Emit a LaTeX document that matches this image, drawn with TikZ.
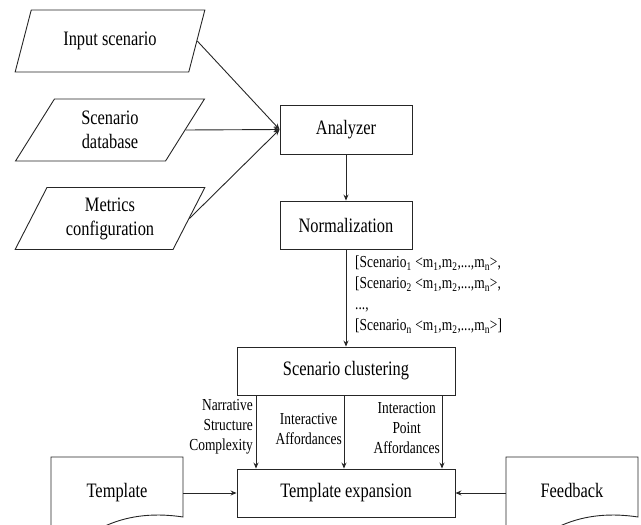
\documentclass[tikz,border=0pt]{standalone}
\usepackage{fontspec}
\setmainfont[FakeStretch=0.8]{Liberation Serif}
\usetikzlibrary{arrows.meta,shapes.geometric}
\newcommand{\sbs}[1]{\textsubscript{#1}}
\begin{document}
\begin{tikzpicture}[x=1pt,y=-1pt,
  ln/.style={draw=black!85, line width=0.9pt},
  tip/.style={ln, -{Stealth[length=6pt,width=5pt]}},
  bigtext/.style={font=\fontsize{20.5}{24}\selectfont, align=center},
  boxnode/.style={draw=black!85, line width=0.9pt, rectangle, inner sep=0pt, bigtext},
  para/.style={draw=black!85, line width=0.9pt, trapezium, trapezium left angle=62,
    trapezium right angle=118, trapezium stretches=true, minimum width=190pt,
    minimum height=62pt, inner sep=0pt, bigtext},
  docnode/.style={rectangle, draw=none, minimum width=132pt, minimum height=72pt,
    inner sep=0pt, bigtext},
  lbl/.style={font=\fontsize{16.8}{20}\selectfont, inner sep=0pt},
  lst/.style={font=\fontsize{16.8}{21}\selectfont, inner sep=0pt, align=left}]
\useasboundingbox (0,0) rectangle (641,525);
\clip (0,0) rectangle (641,525);

% inputs
\node[para] (in) at (110,41) {Input scenario};
\node[para] (db) at (110,130) {Scenario\\database};
\node[para] (mc) at (110,218.5) {Metrics\\configuration};

% process boxes
\node[boxnode, minimum width=132pt, minimum height=49pt] (an) at (346,129.5) {Analyzer};
\node[boxnode, minimum width=132pt, minimum height=48pt] (no) at (346,225) {Normalization};
\node[boxnode, minimum width=218pt, minimum height=48pt] (sc) at (346,371) {Scenario clustering};
\node[boxnode, minimum width=218pt, minimum height=48pt] (te) at (346,493) {Template expansion};

% documents
\node[docnode] (tp) at (117,493) {\raisebox{6pt}{Template}};
\node[docnode] (fb) at (572,493) {\raisebox{6pt}{Feedback}};
\draw[ln] (51,538) -- (51,457) -- (183,457) -- (183,517)
  .. controls (150,512) and (125,517) .. (105,526)
  .. controls (85,535) and (65,540) .. (51,538);
\draw[ln] (506,538) -- (506,457) -- (638,457) -- (638,517)
  .. controls (605,512) and (580,517) .. (560,526)
  .. controls (540,535) and (520,540) .. (506,538);

% connectors
\draw[tip] (in.east) -- (an.west);
\draw[tip] (db.east) -- (an.west);
\draw[tip] (mc.east) -- (an.west);
\draw[tip] (an.south) -- (no.north);
\draw[tip] (no.south) -- (sc.north);
\draw[tip] ([xshift=-90pt]sc.south) -- ([xshift=-90pt]te.north);
\draw[tip] ([xshift=-2pt]sc.south) -- ([xshift=-2pt]te.north);
\draw[tip] ([xshift=96pt]sc.south) -- ([xshift=96pt]te.north);
\draw[tip] (tp.east) -- (te.west);
\draw[tip] (fb.west) -- (te.east);

% labels
\node[lst, anchor=west] (list) at (355,294.5) {{[}Scenario\sbs{1} <m\sbs{1},m\sbs{2},...,m\sbs{n}>,\\
{[}Scenario\sbs{2} <m\sbs{1},m\sbs{2},...,m\sbs{n}>,\\
...,\\
{[}Scenario\sbs{n} <m\sbs{1},m\sbs{2},...,m\sbs{n}>{]}};
\node[lbl, anchor=east, align=right] (l1) at (253,427) {Narrative\\Structure\\Complexity};
\node[lbl, anchor=east, align=center] (l2) at (342,429) {Interactive\\Affordances};
\node[lbl, anchor=east, align=center] (l3) at (440,428) {Interaction\\Point\\Affordances};
\end{tikzpicture}
\end{document}
